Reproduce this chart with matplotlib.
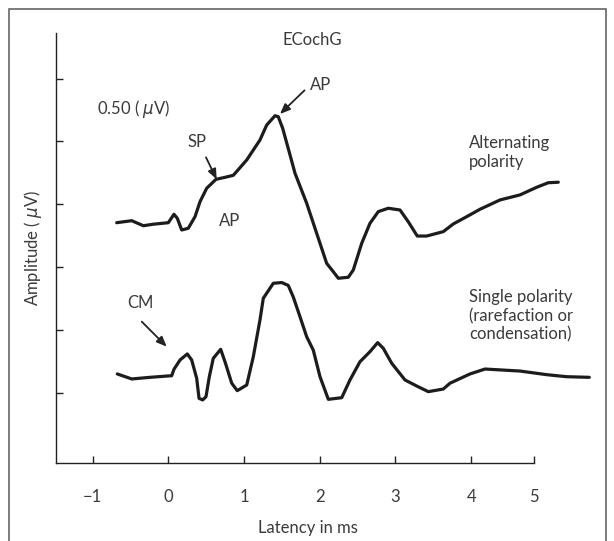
import matplotlib
matplotlib.use("Agg")
import matplotlib.pyplot as plt
from matplotlib.patches import Rectangle

plt.rcParams['font.family'] = ['Lato', 'DejaVu Sans']
plt.rcParams['mathtext.fontset'] = 'dejavusans'

# ---- data (latency in ms, amplitude in uV) ----
alt_latency = [-0.682, -0.483, -0.330, -0.198, 0.000, 0.075, 0.119, 0.177, 0.264, 0.353,
               0.419, 0.507, 0.630, 0.749, 0.859, 1.036, 1.211, 1.300, 1.410, 1.453,
               1.511, 1.608, 1.674, 1.828, 1.960, 2.092, 2.180, 2.246, 2.378, 2.444,
               2.555, 2.664, 2.774, 2.906, 3.061, 3.170, 3.289, 3.413, 3.633, 3.765,
               3.942, 4.118, 4.382, 4.646, 4.867, 5.020, 5.152]
alt_amplitude = [1.353, 1.369, 1.329, 1.341, 1.353, 1.420, 1.388, 1.295, 1.309, 1.401,
                 1.520, 1.627, 1.698, 1.714, 1.730, 1.852, 2.011, 2.130, 2.204, 2.196,
                 2.104, 1.892, 1.746, 1.508, 1.269, 1.030, 0.963, 0.911, 0.919, 0.977,
                 1.189, 1.348, 1.441, 1.468, 1.454, 1.361, 1.247, 1.247, 1.282, 1.343,
                 1.401, 1.460, 1.534, 1.574, 1.635, 1.671, 1.675]

single_latency = [-0.674, -0.483, -0.242, 0.045, 0.075, 0.155, 0.251, 0.309, 0.375, 0.406,
                  0.454, 0.498, 0.542, 0.594, 0.692, 0.749, 0.838, 0.911, 1.036, 1.123,
                  1.211, 1.255, 1.387, 1.498, 1.585, 1.651, 1.740, 1.828, 1.915, 2.004,
                  2.114, 2.291, 2.400, 2.532, 2.664, 2.766, 2.840, 2.951, 3.127, 3.281,
                  3.435, 3.633, 3.721, 3.986, 4.184, 4.646, 5.000, 5.263, 5.561]
single_amplitude = [0.150, 0.110, 0.123, 0.136, 0.187, 0.261, 0.309, 0.261, 0.115, -0.044,
                    -0.057, -0.031, 0.128, 0.274, 0.346, 0.247, 0.076, 0.017, 0.062, 0.287,
                    0.579, 0.752, 0.871, 0.877, 0.854, 0.762, 0.605, 0.446, 0.340, 0.128,
                    -0.052, -0.039, 0.102, 0.247, 0.327, 0.399, 0.354, 0.235, 0.102, 0.054,
                    0.009, 0.030, 0.076, 0.150, 0.189, 0.173, 0.144, 0.128, 0.123]

x_tick_labels = ['\u22121', '0', '1', '2', '3', '4', '5']
x_tick_pos = [-1, 0, 1, 2, 3, 4, 4.83]
y_ticks = [0.0, 0.5, 1.0, 1.5, 2.0, 2.5]

TXT = '#3a3a3a'
LINE = '#1c1c1c'
FS = 12

fig = plt.figure(figsize=(6.14, 5.41), dpi=100)
ax = fig.add_axes([56/614, 1-462.5/541, (600-56)/614, 430/541])
ax.set_xlim(-1.4835, 5.703)
ax.set_ylim(-0.5545, 2.866)

ax.plot(alt_latency, alt_amplitude, color=LINE, lw=2.3, solid_joinstyle='round',
        solid_capstyle='round')
ax.plot(single_latency, single_amplitude, color=LINE, lw=2.3, solid_joinstyle='round',
        solid_capstyle='round')

for s in ['top', 'right']:
    ax.spines[s].set_visible(False)
for s in ['left', 'bottom']:
    ax.spines[s].set_color('#222222')
    ax.spines[s].set_linewidth(1.0)
ax.spines['bottom'].set_bounds(-1.4835, 4.83)

ax.set_xticks(x_tick_pos)
ax.set_xticklabels(x_tick_labels)
ax.set_yticks(y_ticks)
ax.set_yticklabels([])
ax.tick_params(axis='both', direction='in', length=5, width=1.0, color='#222222',
               labelsize=FS, labelcolor=TXT)
ax.tick_params(axis='x', pad=19)

ax.set_xlabel('Latency in ms', fontsize=FS, color=TXT)
ax.xaxis.set_label_coords(0.463, -0.153)
ax.xaxis.label.set_va('center')
ax.set_ylabel('Amplitude ( $\\mu$V)', fontsize=FS, color=TXT)
ax.yaxis.set_label_coords(-0.0417, 0.4977)
ax.yaxis.label.set_va('center')

tk = dict(fontsize=FS, color=TXT)
ax.text(1.898, 2.803, 'ECochG', ha='center', va='center', **tk)
ax.text(-0.942, 2.258, '0.50 ( $\\mu$V)', ha='left', va='center', **tk)
ax.text(0.806, 1.369, 'AP', ha='center', va='center', **tk)
ax.text(3.976, 1.910, 'Alternating\npolarity', ha='left', va='center', **tk)
ax.text(3.976, 0.611, 'Single polarity\n(rarefaction or\ncondensation)', ha='left',
        va='center', **tk)

arrow = dict(arrowstyle='-|>,head_length=0.6,head_width=0.25', color='#222222', lw=1.3,
             shrinkA=0, shrinkB=0)
ax.annotate('', xy=(1.476, 2.218), xytext=(1.80, 2.406), arrowprops=arrow)
ax.text(2.017, 2.452, 'AP', ha='center', va='center', **tk)
ax.annotate('', xy=(0.639, 1.698), xytext=(0.498, 1.873), arrowprops=arrow)
ax.text(0.375, 1.998, 'SP', ha='center', va='center', **tk)
ax.annotate('', xy=(-0.021, 0.367), xytext=(-0.351, 0.566), arrowprops=arrow)
ax.text(-0.374, 0.714, 'CM', ha='center', va='center', **tk)

fig.patches.append(Rectangle((9/614, -0.05), (606-9)/614, 1-9/541+0.05,
                             transform=fig.transFigure, fill=False,
                             edgecolor='#666666', lw=1.2, zorder=0))

fig.savefig('out.png', dpi=100)
